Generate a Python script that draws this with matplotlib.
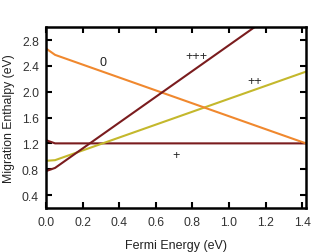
import matplotlib.pyplot as plt
import numpy as np

plt.rcParams['font.family'] = ['Liberation Sans', 'DejaVu Sans']

# Fermi energy breakpoints (eV)
fermi = [0.0, 0.05, 1.42]

# Migration enthalpy for each charge state (eV)
h_neutral = [2.67, 2.57, 1.20]   # "0"
h_plus = [1.25, 1.20, 1.20]      # "+"
h_plus2 = [0.93, 0.94, 2.31]     # "++"
h_plus3 = [0.77, 0.82, 3.56]     # "+++"

colors = {"0": "#F0882E", "+": "#7A1C1E", "++": "#C4B82C", "+++": "#7A1C1E"}

fig, ax = plt.subplots(figsize=(3.21, 2.53), dpi=100)
fig.subplots_adjust(left=0.143, right=0.953, top=0.889, bottom=0.174)

ax.plot(fermi, h_plus, color=colors["+"], lw=1.5)
ax.plot(fermi, h_plus2, color=colors["++"], lw=1.5)
ax.plot(fermi, h_neutral, color=colors["0"], lw=1.5)
ax.plot(fermi, h_plus3, color=colors["+++"], lw=1.5)

# Charge state labels
ax.text(0.31, 2.46, "0", fontsize=9, ha='center', va='center', color='#222222')
ax.text(0.82, 2.56, "+++", fontsize=9, ha='center', va='center', color='#222222')
ax.text(1.14, 2.16, "++", fontsize=9, ha='center', va='center', color='#222222')
ax.text(0.71, 1.02, "+", fontsize=9, ha='center', va='center', color='#222222')

ax.set_xlim(0, 1.42)
ax.set_ylim(0.2, 3.0)
ax.set_xticks(np.arange(0, 1.41, 0.2))
ax.set_yticks(np.arange(0.4, 2.81, 0.4))
ax.set_xticklabels([f"{v:.1f}" for v in np.arange(0, 1.41, 0.2)])
ax.set_yticklabels([f"{v:.1f}" for v in np.arange(0.4, 2.81, 0.4)])

ax.tick_params(direction='in', top=True, right=True, length=4, width=1.5,
               labelsize=8.7, labelcolor='#333333')
ax.tick_params(axis='x', pad=6)
ax.tick_params(axis='y', pad=5)
for s in ax.spines.values():
    s.set_linewidth(1.8)

ax.set_xlabel("Fermi Energy (eV)", fontsize=9, color='#222222', labelpad=8)
ax.set_ylabel("Migration Enthalpy (eV)", fontsize=8.8, color='#222222', labelpad=5)

plt.savefig("out.png", dpi=100)
